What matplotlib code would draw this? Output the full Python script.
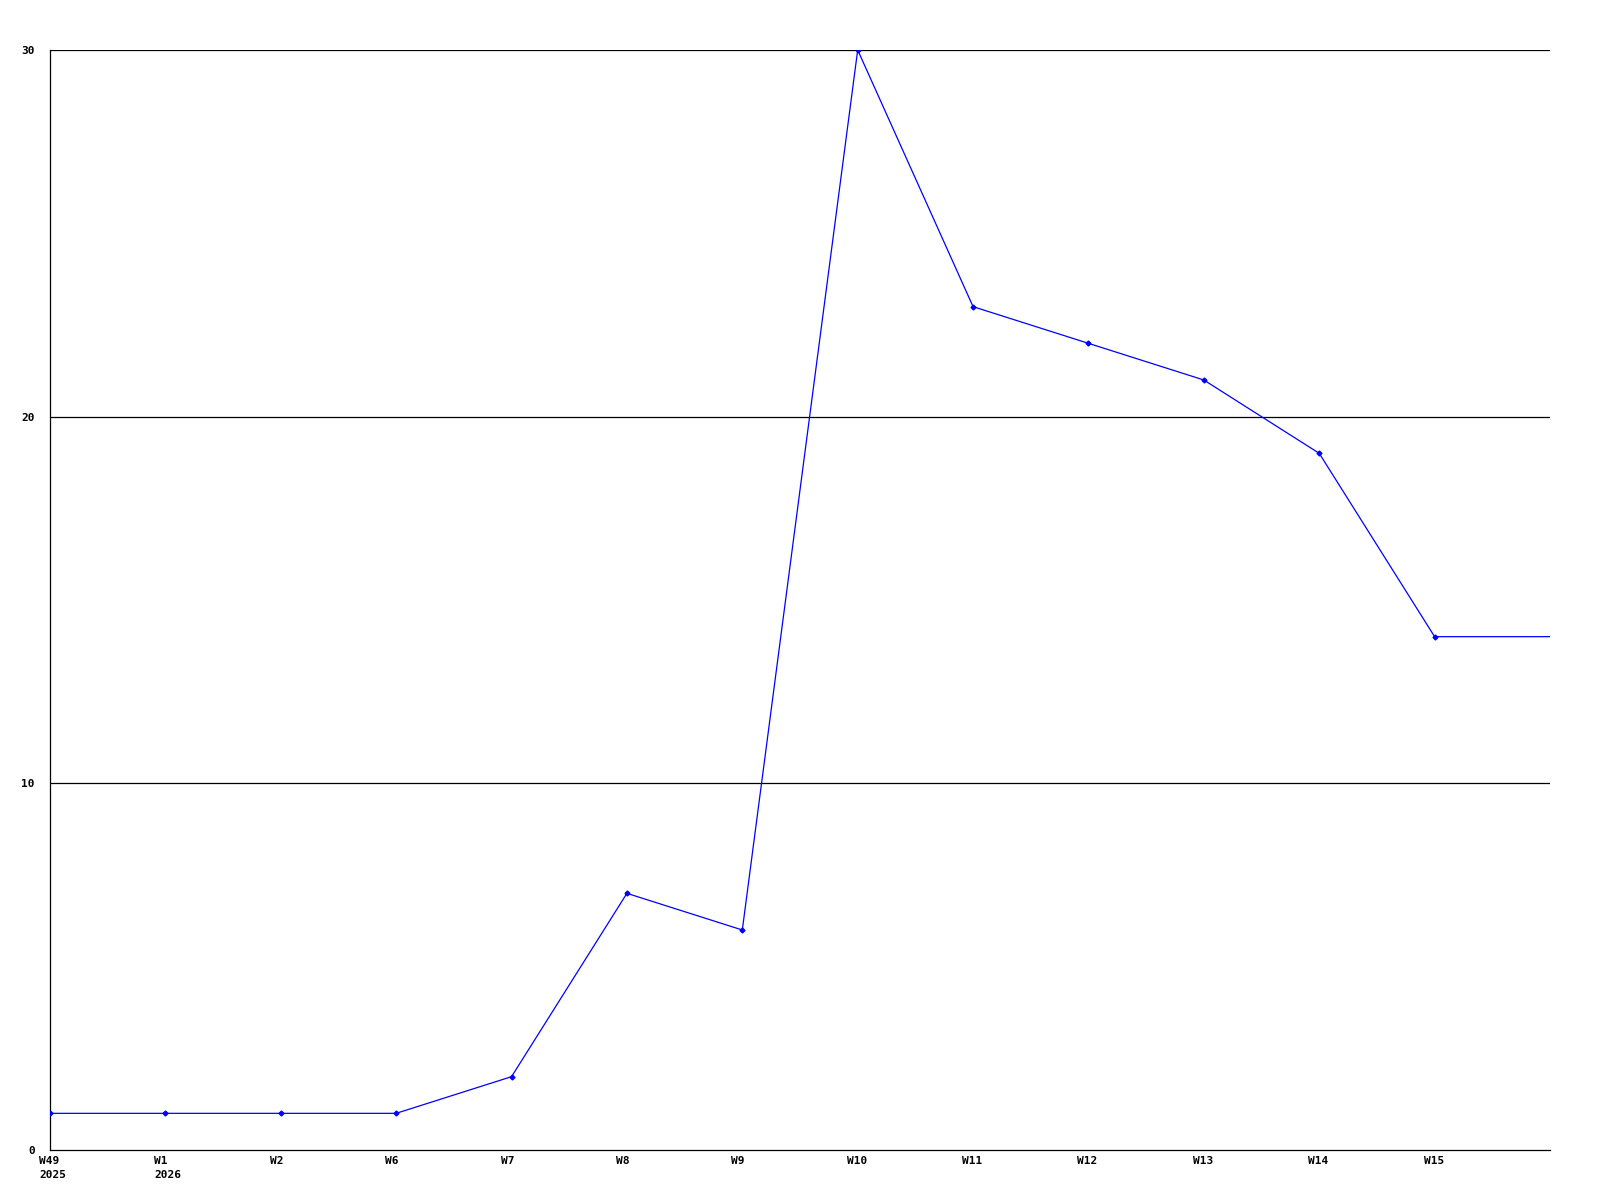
import numpy as np
import matplotlib.pyplot as plt
import matplotlib.transforms as mtransforms

weeks = ['W49\n2025', 'W1\n2026', 'W2', 'W6', 'W7', 'W8', 'W9', 'W10',
         'W11', 'W12', 'W13', 'W14', 'W15']
values = [1, 1, 1, 1, 2, 7, 6, 30, 23, 22, 21, 19, 14, 14]
y_ticks = [0, 10, 20, 30]

plt.rcParams['font.family'] = ['DejaVu Sans Mono']

fig = plt.figure(figsize=(16, 12), dpi=100)
ax = fig.add_axes([50 / 1600, 50 / 1200, 1500 / 1600, 1100 / 1200])

x = np.arange(len(values))
ax.plot(x, values, color='#0000ff', linewidth=0.9, marker='D', markersize=2.5,
        markevery=list(range(len(weeks))), zorder=3)

for v in y_ticks[1:]:
    ax.axhline(v, color='black', linewidth=0.9, zorder=1)

ax.set_xlim(0, len(values) - 1)
ax.set_ylim(0, 30)
ax.set_yticks(y_ticks)
ax.set_yticklabels([str(v) for v in y_ticks], fontsize=8, fontweight='bold')
ax.set_xticks(range(len(weeks)))
ax.set_xticklabels(weeks, fontsize=8, fontweight='bold', ha='left',
                   va='top', linespacing=1.5)
ax.tick_params(axis='both', length=0)
ax.tick_params(axis='y', pad=11)
ax.tick_params(axis='x', pad=4.5)

offset = mtransforms.ScaledTranslation(-11 / 100, 0, fig.dpi_scale_trans)
for lab in ax.get_xticklabels():
    lab.set_transform(lab.get_transform() + offset)

for s in ['top', 'right']:
    ax.spines[s].set_visible(False)
for s in ['left', 'bottom']:
    ax.spines[s].set_linewidth(0.9)

fig.savefig('out.png', dpi=100)
